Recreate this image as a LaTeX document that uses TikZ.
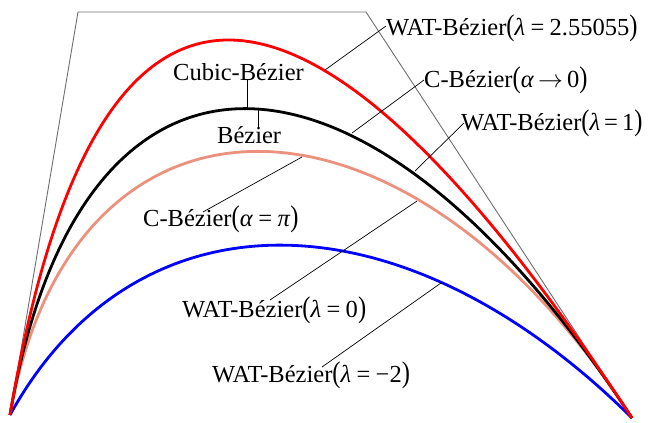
\documentclass[tikz,border=0pt]{standalone}
\usepackage{fontspec}
\usepackage{graphicx}
\setmainfont{Liberation Serif}
\definecolor{salmon}{RGB}{236,145,125}
\newcommand{\LP}{\scalebox{1}[1.22]{(}}
\newcommand{\RP}{\scalebox{1}[1.22]{)}}
\newcommand{\EQ}{\hspace{0.22em}=\hspace{0.22em}}
\begin{document}
\begin{tikzpicture}[x=1pt,y=-1pt,
  lbl/.style={inner sep=0pt,anchor=base west,font=\fontsize{24.5}{29}\selectfont},
  curve/.style={line width=2.8pt},
  poly/.style={draw={rgb,255:red,110;green,110;blue,110},line width=0.9pt},
  leader/.style={draw=black,line width=0.7pt}]
\useasboundingbox (0,0) rectangle (648,423);
% control polygon
\coordinate (P0) at (10,415);
\coordinate (P1) at (78,12);
\coordinate (P2) at (366,12);
\coordinate (P3) at (632,418);
\draw[poly] (P0) -- (P1) -- (P2) -- (P3);
% curves
\draw[curve,blue] (P0) .. controls (135,188) and (400,188) .. (P3);
\draw[curve,salmon] (P0) .. controls (72,62) and (405,64) .. (P3);
\draw[curve,black] (P0) .. controls (79,6) and (362,6) .. (P3);
\draw[curve,red] (P0) .. controls (94.5,-85.5) and (302,-85.5) .. (P3);
% labels
\node[lbl] (l1) at (386,35) {WAT-Bézier\LP\textit{λ}\EQ 2.55055\RP};
\node[lbl] (l2) at (424,87) {C-Bézier\LP\textit{α}\,$\rightarrow$\,0\RP};
\node[lbl] (l3) at (461,130) {WAT-Bézier\LP\textit{λ}\,=\,1\RP};
\node[lbl] (l4) at (173,80) {Cubic-Bézier};
\node[lbl] (l5) at (217,143) {Bézier};
\node[lbl] (l6) at (143,226) {C-Bézier\LP\textit{α}\EQ\textit{π}\RP};
\node[lbl] (l7) at (182,317) {WAT-Bézier\LP\textit{λ}\EQ 0\RP};
\node[lbl] (l8) at (212,382) {WAT-Bézier\LP\textit{λ}\EQ −2\RP};
% leader ends
\coordinate (s1) at (386,26);  \coordinate (e1) at (325,70);
\coordinate (s2) at (424,80);  \coordinate (e2) at (352,133);
\coordinate (s3) at (464,123); \coordinate (e3) at (415,171);
\coordinate (s4) at (247,80);  \coordinate (e4) at (247,108);
\coordinate (s5) at (258,127); \coordinate (e5) at (258,108);
\coordinate (s6) at (203,212); \coordinate (e6) at (302,157);
\coordinate (s7) at (270,300); \coordinate (e7) at (417,201);
\coordinate (s8) at (322,367); \coordinate (e8) at (441,283);
\draw[leader] (s1) -- (e1);
\draw[leader] (s2) -- (e2);
\draw[leader] (s3) -- (e3);
\draw[leader] (s4) -- (e4);
\draw[leader] (s5) -- (e5);
\draw[leader] (s6) -- (e6);
\draw[leader] (s7) -- (e7);
\draw[leader] (s8) -- (e8);
\end{tikzpicture}
\end{document}
